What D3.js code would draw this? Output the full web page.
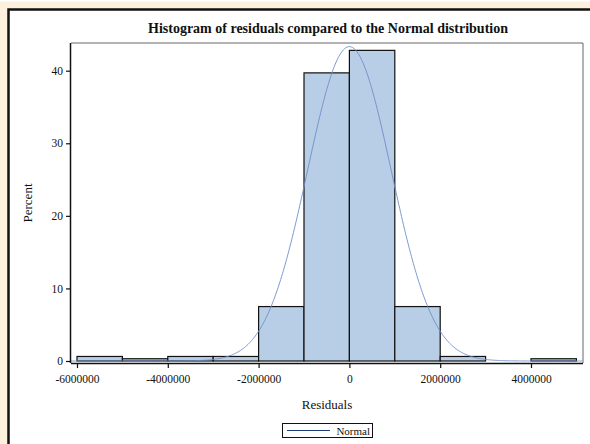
<!DOCTYPE html>
<html>
<head>
<meta charset="utf-8">
<script src="https://cdn.jsdelivr.net/npm/d3@7"></script>
<style>
  body { margin: 0; background: #fff; }
  svg text { font-family: "Liberation Serif", "Times New Roman", serif; fill: #111; }
</style>
</head>
<body>
<svg id="chart" width="590" height="444"></svg>
<script>
// histogram bins (start of each 1,000,000-wide bin) and percent in each
const binStarts = [-6000000, -5000000, -4000000, -3000000, -2000000, -1000000, 0, 1000000, 2000000, 3000000, 4000000];
const binPercent = [0.625, 0.3125, 0.625, 0.625, 7.5, 39.7, 42.8, 7.5, 0.625, 0, 0.3125];
const binWidth = 1000000;

// fitted normal parameters
const normalMean = 0;
const normalSd = 921000;

const xTicks = [-6000000, -4000000, -2000000, 0, 2000000, 4000000];
const yTicks = [0, 10, 20, 30, 40];

const svg = d3.select("#chart");

// page background + frame
svg.append("rect").attr("width", 590).attr("height", 444).attr("fill", "#fdf1de");
svg.append("rect").attr("x", 0).attr("y", 0).attr("width", 590).attr("height", 1.5).attr("fill", "#fff");
svg.append("rect").attr("x", 8).attr("y", 10).attr("width", 582).attr("height", 434).attr("fill", "#fff");
svg.append("path")
    .attr("d", "M8.5,444V9.5H590")
    .attr("fill", "none")
    .attr("stroke", "#111")
    .attr("stroke-width", 2.5);

const plot = { left: 71, right: 583, top: 43, bottom: 363 };

const x = d3.scaleLinear().domain([-6000000, 4000000]).range([77, 531]);
const y = d3.scaleLinear().domain([0, 40]).range([361, 70.7]);

// title
svg.append("text")
    .attr("x", 328)
    .attr("y", 33)
    .attr("text-anchor", "middle")
    .style("font-size", "14px")
    .style("font-weight", "bold")
    .text("Histogram of residuals compared to the Normal distribution");

// plot frame (top/right grey)
svg.append("path")
    .attr("d", `M${plot.left},${plot.top}H${plot.right}V${plot.bottom}`)
    .attr("fill", "none")
    .attr("stroke", "#666")
    .attr("stroke-width", 1);

// bars
svg.selectAll("rect.bar")
    .data(binStarts.map((s, i) => ({ start: s, value: binPercent[i] })).filter(d => d.value > 0))
    .enter()
    .append("rect")
    .attr("class", "bar")
    .attr("x", d => x(d.start))
    .attr("y", d => y(d.value))
    .attr("width", d => x(d.start + binWidth) - x(d.start))
    .attr("height", d => y(0) - y(d.value))
    .attr("fill", "#b8cde6")
    .attr("stroke", "#111")
    .attr("stroke-width", 1.2);

// normal curve
svg.append("clipPath").attr("id", "plotclip")
    .append("rect")
    .attr("x", plot.left).attr("y", plot.top)
    .attr("width", plot.right - plot.left).attr("height", plot.bottom - plot.top);

const normalPct = v => 100 * binWidth / (normalSd * Math.sqrt(2 * Math.PI)) *
    Math.exp(-0.5 * Math.pow((v - normalMean) / normalSd, 2));

const xs = d3.range(x.invert(plot.left), x.invert(plot.right), 20000);
svg.append("path")
    .datum(xs)
    .attr("clip-path", "url(#plotclip)")
    .attr("fill", "none")
    .attr("stroke", "#6f8fca")
    .attr("stroke-width", 0.9)
    .attr("d", d3.line().x(d => x(d)).y(d => y(normalPct(d))));

// axes
const xAxis = svg.append("g")
    .attr("transform", `translate(0,${plot.bottom})`)
    .call(d3.axisBottom(x).tickValues(xTicks).tickSize(5).tickSizeOuter(0).tickFormat(d => String(d)));
xAxis.select(".domain").attr("d", `M${plot.left},0.5H${plot.right}`).attr("stroke", "#111").attr("stroke-width", 1.5);
xAxis.selectAll(".tick line").attr("stroke", "#111").attr("stroke-width", 1.2);
xAxis.selectAll(".tick text").attr("y", 12).style("font-size", "11.5px").style("font-family", "Liberation Serif");

const yAxis = svg.append("g")
    .attr("transform", `translate(${plot.left},0)`)
    .call(d3.axisLeft(y).tickValues(yTicks).tickSize(5).tickSizeOuter(0));
yAxis.select(".domain").attr("d", `M-0.5,${plot.top}V${plot.bottom}`).attr("stroke", "#111").attr("stroke-width", 1.5);
yAxis.selectAll(".tick line").attr("stroke", "#111").attr("stroke-width", 1.2);
yAxis.selectAll(".tick text").attr("x", -8).style("font-size", "11.5px").style("font-family", "Liberation Serif");

// axis labels
svg.append("text")
    .attr("x", (plot.left + plot.right) / 2)
    .attr("y", 409)
    .attr("text-anchor", "middle")
    .style("font-size", "13px")
    .text("Residuals");

svg.append("text")
    .attr("transform", `translate(32,${(plot.top + plot.bottom) / 2}) rotate(-90)`)
    .attr("text-anchor", "middle")
    .style("font-size", "13px")
    .text("Percent");

// legend
const legend = svg.append("g").attr("transform", "translate(282,423)");
legend.append("rect")
    .attr("x", 0.5).attr("y", 0.5).attr("width", 90).attr("height", 14)
    .attr("fill", "#fff").attr("stroke", "#111").attr("stroke-width", 1);
legend.append("line")
    .attr("x1", 5).attr("x2", 48).attr("y1", 7.5).attr("y2", 7.5)
    .attr("stroke", "#1f3c78").attr("stroke-width", 1);
legend.append("text")
    .attr("x", 88).attr("y", 11.5)
    .attr("text-anchor", "end")
    .style("font-size", "11px")
    .text("Normal");
</script>
</body>
</html>
